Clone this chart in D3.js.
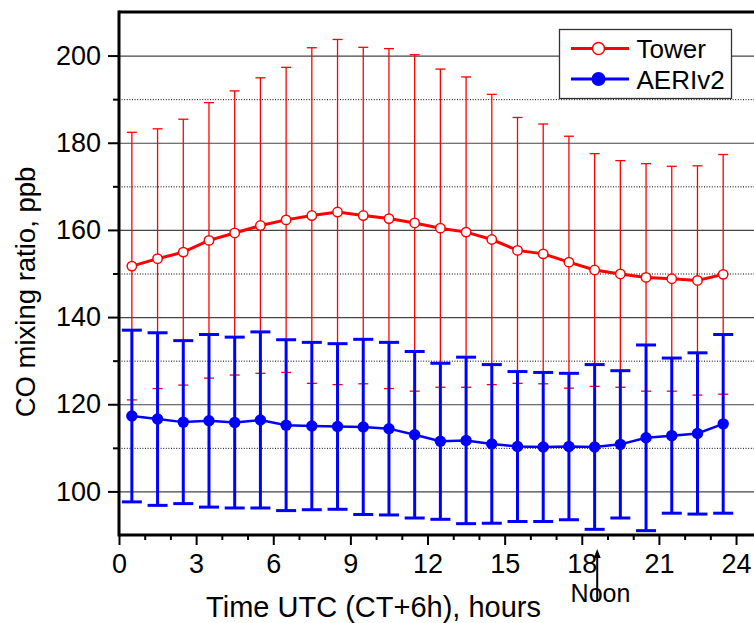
<!DOCTYPE html>
<html><head><meta charset="utf-8">
<script src="https://cdn.jsdelivr.net/npm/d3@7/dist/d3.min.js"></script>
<style>
body{margin:0;background:#fff;}
svg text{font-family:"Liberation Sans",Arial,Helvetica,sans-serif;fill:#000;}
</style>
</head><body>
<svg id="chart" width="754" height="623"></svg>
<script>
// ---- data ----
const hours = [0.5,1.5,2.5,3.5,4.5,5.5,6.5,7.5,8.5,9.5,10.5,11.5,12.5,13.5,14.5,15.5,16.5,17.5,18.5,19.5,20.5,21.5,22.5,23.5];
const towerMean = [151.7,153.4,154.9,157.6,159.3,161.0,162.3,163.3,164.1,163.3,162.6,161.6,160.4,159.5,157.8,155.3,154.5,152.6,150.8,149.9,149.1,148.8,148.4,149.8];
const towerSD   = [30.7,29.8,30.5,31.6,32.6,33.9,35.0,38.5,39.6,38.6,39.0,38.6,36.5,35.6,33.3,30.5,29.8,28.9,26.7,26.0,26.1,25.8,26.3,27.5];
const aeriMean  = [117.3,116.6,115.9,116.2,115.8,116.4,115.2,115.0,114.9,114.8,114.4,113.0,111.5,111.7,110.9,110.3,110.2,110.3,110.2,110.8,112.3,112.8,113.3,115.5];
const aeriSD    = [19.7,19.8,18.7,19.8,19.6,20.2,19.6,19.2,19.0,20.1,19.8,19.1,17.9,19.1,18.2,17.2,17.1,16.8,18.9,16.9,21.3,17.8,18.5,20.5];
const xMajorTicks = [0,3,6,9,12,15,18,21,24];
const xMinorTicks = d3.range(0,25,1);
const yMajorTicks = [100,120,140,160,180,200];
const yMinorTicks = [110,130,150,170,190];
const seriesNames = ["Tower","AERIv2"];
const noonHour = 18.6;
const xTitle = "Time UTC (CT+6h), hours";
const yTitle = "CO mixing ratio, ppb";

// ---- scales ----
const svg = d3.select("#chart");
const x = d3.scaleLinear().domain([0,25]).range([119,761.75]);
const y = d3.scaleLinear().domain([90,210]).range([535,12]);
const X0 = x(0), X1 = x(25), Y0 = y(90), Y1 = y(210);

// ---- gridlines ----
const gMinor = svg.append("g").attr("transform",`translate(${X0},0)`)
  .call(d3.axisLeft(y).tickValues(yMinorTicks).tickSize(-(X1-X0)).tickFormat(""));
gMinor.select(".domain").remove();
gMinor.selectAll("line").attr("stroke","#000").attr("stroke-width",1).attr("stroke-dasharray","1,1.6");

const gMajor = svg.append("g").attr("transform",`translate(${X0},0)`)
  .call(d3.axisLeft(y).tickValues(yMajorTicks).tickSize(-(X1-X0)).tickFormat(""));
gMajor.select(".domain").remove();
gMajor.selectAll("line").attr("stroke","#444").attr("stroke-width",1.2);

// ---- Tower (red) ----
const red = "#ff0000", blue = "#0000ff";
const tower = hours.map((h,i)=>({h, m:towerMean[i], s:towerSD[i]}));
const aeri = hours.map((h,i)=>({h, m:aeriMean[i], s:aeriSD[i]}));

const gT = svg.append("g");
gT.selectAll("line.v").data(tower).join("line")
  .attr("x1",d=>x(d.h)).attr("x2",d=>x(d.h))
  .attr("y1",d=>y(d.m+d.s)).attr("y2",d=>y(d.m-d.s))
  .attr("stroke",red).attr("stroke-width",1.3);
[1,-1].forEach(sg=>{
  gT.append("g").selectAll("line").data(tower).join("line")
    .attr("x1",d=>x(d.h)-5).attr("x2",d=>x(d.h)+5)
    .attr("y1",d=>y(d.m+sg*d.s)).attr("y2",d=>y(d.m+sg*d.s))
    .attr("stroke",red).attr("stroke-width",1.3);
});
gT.append("path").datum(tower)
  .attr("d",d3.line().x(d=>x(d.h)).y(d=>y(d.m)))
  .attr("fill","none").attr("stroke",red).attr("stroke-width",3);
gT.selectAll("circle").data(tower).join("circle")
  .attr("cx",d=>x(d.h)).attr("cy",d=>y(d.m)).attr("r",4.7)
  .attr("fill","#fff").attr("stroke",red).attr("stroke-width",1.5);

// ---- AERIv2 (blue) ----
const gA = svg.append("g");
gA.selectAll("line.v").data(aeri).join("line")
  .attr("x1",d=>x(d.h)).attr("x2",d=>x(d.h))
  .attr("y1",d=>y(d.m+d.s)).attr("y2",d=>y(d.m-d.s))
  .attr("stroke",blue).attr("stroke-width",3);
[1,-1].forEach(sg=>{
  gA.append("g").selectAll("line").data(aeri).join("line")
    .attr("x1",d=>x(d.h)-10).attr("x2",d=>x(d.h)+10)
    .attr("y1",d=>y(d.m+sg*d.s)).attr("y2",d=>y(d.m+sg*d.s))
    .attr("stroke",blue).attr("stroke-width",3);
});
gA.append("path").datum(aeri)
  .attr("d",d3.line().x(d=>x(d.h)).y(d=>y(d.m)))
  .attr("fill","none").attr("stroke",blue).attr("stroke-width",2.5);
gA.selectAll("circle").data(aeri).join("circle")
  .attr("cx",d=>x(d.h)).attr("cy",d=>y(d.m)).attr("r",5.7)
  .attr("fill",blue);

// ---- axes ----
const axX = svg.append("g").attr("transform",`translate(0,${Y0})`)
  .call(d3.axisBottom(x).tickValues(xMajorTicks).tickSize(10).tickPadding(9).tickFormat(d3.format("d")));
axX.select(".domain").remove();
axX.selectAll("line").attr("stroke","#000").attr("stroke-width",2);
axX.selectAll("text").attr("font-size",27).attr("font-family","Liberation Sans, Arial");
const axXm = svg.append("g").attr("transform",`translate(0,${Y0})`)
  .call(d3.axisBottom(x).tickValues(xMinorTicks.filter(v=>!xMajorTicks.includes(v))).tickSize(5).tickFormat(""));
axXm.select(".domain").remove();
axXm.selectAll("line").attr("stroke","#000").attr("stroke-width",2);

const axY = svg.append("g").attr("transform",`translate(${X0},0)`)
  .call(d3.axisLeft(y).tickValues(yMajorTicks).tickSize(11).tickPadding(7).tickFormat(d3.format("d")));
axY.select(".domain").remove();
axY.selectAll("line").attr("stroke","#000").attr("stroke-width",2);
axY.selectAll("text").attr("font-size",27).attr("font-family","Liberation Sans, Arial");
const axYm = svg.append("g").attr("transform",`translate(${X0},0)`)
  .call(d3.axisLeft(y).tickValues(yMinorTicks).tickSize(6).tickFormat(""));
axYm.select(".domain").remove();
axYm.selectAll("line").attr("stroke","#000").attr("stroke-width",2);

// spines
svg.append("line").attr("x1",X0).attr("x2",X1).attr("y1",Y0).attr("y2",Y0).attr("stroke","#000").attr("stroke-width",3);
svg.append("line").attr("x1",X0).attr("x2",X1).attr("y1",Y1).attr("y2",Y1).attr("stroke","#000").attr("stroke-width",3);
svg.append("line").attr("x1",X0).attr("x2",X0).attr("y1",Y1-1.5).attr("y2",Y0+1.5).attr("stroke","#000").attr("stroke-width",3);

// titles
svg.append("text").attr("x",373.5).attr("y",616.5).attr("text-anchor","middle")
  .attr("font-size",29).text(xTitle);
svg.append("text").attr("transform","translate(35,292) rotate(-90)").attr("text-anchor","middle")
  .attr("font-size",27.5).text(yTitle);

// Noon arrow
const nx = x(noonHour);
svg.append("line").attr("x1",nx).attr("x2",nx).attr("y1",601).attr("y2",556)
  .attr("stroke","#000").attr("stroke-width",2);
svg.append("path").attr("d",`M${nx},549 L${nx-3.5},558 L${nx+3.5},558 Z`).attr("fill","#000");
svg.append("text").attr("x",600.5).attr("y",601.5).attr("text-anchor","middle")
  .attr("font-size",25).text("Noon");

// legend
const lg = svg.append("g");
lg.append("rect").attr("x",559.5).attr("y",29.5).attr("width",172).attr("height",69)
  .attr("fill","#fff").attr("stroke","#333").attr("stroke-width",1.3);
const legendItems = [
  {name:seriesNames[0], color:red, y:48.5, open:true, r:6},
  {name:seriesNames[1], color:blue, y:79, open:false, r:7}
];
legendItems.forEach(it=>{
  lg.append("line").attr("x1",571).attr("x2",629).attr("y1",it.y).attr("y2",it.y)
    .attr("stroke",it.color).attr("stroke-width",3);
  lg.append("circle").attr("cx",598.5).attr("cy",it.y).attr("r",it.r)
    .attr("fill",it.open?"#fff":it.color).attr("stroke",it.color).attr("stroke-width",it.open?1.5:0);
  lg.append("text").attr("x",636.5).attr("y",it.y+9.5).attr("font-size",26).text(it.name);
});
</script>
</body></html>
